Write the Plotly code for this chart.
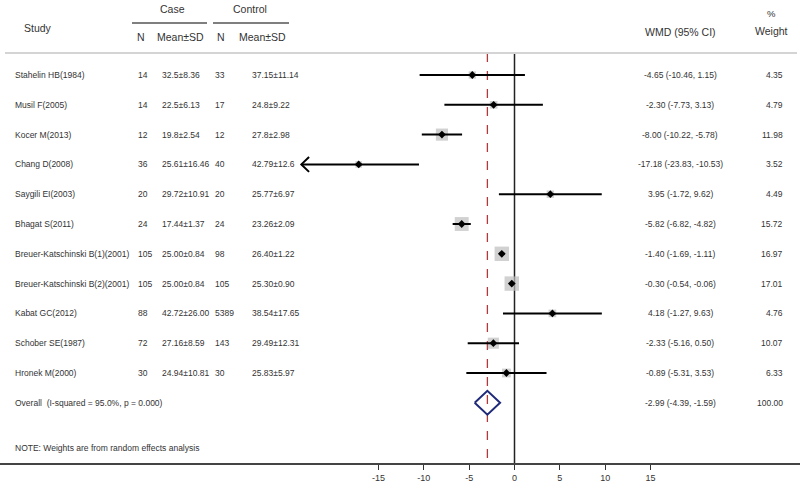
import plotly.graph_objects as go
import math

# ---------------- data ----------------
studies = ["Stahelin HB(1984)", "Musil F(2005)", "Kocer M(2013)", "Chang D(2008)",
           "Saygili EI(2003)", "Bhagat S(2011)", "Breuer-Katschinski B(1)(2001)",
           "Breuer-Katschinski B(2)(2001)", "Kabat GC(2012)", "Schober SE(1987)",
           "Hronek M(2000)"]
n_case = [14, 14, 12, 36, 20, 24, 105, 105, 88, 72, 30]
ms_case = ["32.5±8.36", "22.5±6.13", "19.8±2.54", "25.61±16.46", "29.72±10.91",
           "17.44±1.37", "25.00±0.84", "25.00±0.84", "42.72±26.00", "27.16±8.59",
           "24.94±10.81"]
n_ctrl = [33, 17, 12, 40, 20, 24, 98, 105, 5389, 143, 30]
ms_ctrl = ["37.15±11.14", "24.8±9.22", "27.8±2.98", "42.79±12.6", "25.77±6.97",
           "23.26±2.09", "26.40±1.22", "25.30±0.90", "38.54±17.65", "29.49±12.31",
           "25.83±5.97"]
wmd = [-4.65, -2.30, -8.00, -17.18, 3.95, -5.82, -1.40, -0.30, 4.18, -2.33, -0.89]
ci_lo = [-10.46, -7.73, -10.22, -23.83, -1.72, -6.82, -1.69, -0.54, -1.27, -5.16, -5.31]
ci_hi = [1.15, 3.13, -5.78, -10.53, 9.62, -4.82, -1.11, -0.06, 9.63, 0.50, 3.53]
weight = [4.35, 4.79, 11.98, 3.52, 4.49, 15.72, 16.97, 17.01, 4.76, 10.07, 6.33]
overall_est, overall_lo, overall_hi = -2.99, -4.39, -1.59
i_squared, p_value = 95.0, 0.000
tick_vals = [-15, -10, -5, 0, 5, 10, 15]
x_clip = -23.5  # left display limit of CI lines

# ---------------- geometry helpers ----------------
W, H = 800, 489
PLOT_BOTTOM = 463
ROW0_PX, ROW_STEP = 75, 29.8
ZERO_PX, PX_PER_UNIT = 514.5, 9.07


def row_of(py):
    return 1 + (py - ROW0_PX) / ROW_STEP


def px_x(px):
    return px / W


rows = list(range(1, len(studies) + 1))
overall_row = len(studies) + 1

TXT = "#333333"
FONT = "Arial, Liberation Sans, sans-serif"

fig = go.Figure()

# weight squares
fig.add_trace(go.Scatter(
    x=wmd, y=rows, mode="markers",
    marker=dict(symbol="square", size=[3.5 * math.sqrt(w) for w in weight],
                color="#bdbdbd", line=dict(width=0)),
    hoverinfo="skip", showlegend=False))

# CI lines (clipped)
for r, lo, hi in zip(rows, ci_lo, ci_hi):
    lo_c = max(lo, x_clip)
    fig.add_trace(go.Scatter(x=[lo_c, hi], y=[r, r], mode="lines",
                             line=dict(color="black", width=2),
                             hoverinfo="skip", showlegend=False))
    if lo < x_clip:
        dx, dy = 0.85, 0.25
        fig.add_trace(go.Scatter(x=[x_clip + dx, x_clip, x_clip + dx],
                                 y=[r - dy, r, r + dy], mode="lines",
                                 line=dict(color="black", width=2),
                                 hoverinfo="skip", showlegend=False))

# point estimates
fig.add_trace(go.Scatter(
    x=wmd, y=rows, mode="markers",
    marker=dict(symbol="diamond", size=6, color="black"),
    hoverinfo="skip", showlegend=False))

# overall diamond
dh = 0.4
fig.add_trace(go.Scatter(
    x=[overall_lo, overall_est, overall_hi, overall_est, overall_lo],
    y=[overall_row, overall_row - dh, overall_row, overall_row + dh, overall_row],
    mode="lines", line=dict(color="#1f2a7a", width=2),
    hoverinfo="skip", showlegend=False))

# reference lines
y_top = row_of(53)
y_bot = row_of(PLOT_BOTTOM)
fig.add_shape(type="line", x0=0, x1=0, y0=y_top, y1=y_bot, xref="x", yref="y",
              line=dict(color="#222222", width=1.5), layer="below")
fig.add_shape(type="line", x0=overall_est, x1=overall_est, y0=y_top, y1=y_bot,
              xref="x", yref="y", line=dict(color="#b03a3a", width=1.3, dash="dash"),
              layer="below")
# header separator
fig.add_shape(type="line", x0=px_x(5), x1=px_x(797), y0=y_top, y1=y_top,
              xref="paper", yref="y", line=dict(color="#d4d4d4", width=2))
# group underlines
fig.add_shape(type="line", x0=px_x(132), x1=px_x(207), y0=row_of(23), y1=row_of(23),
              xref="paper", yref="y", line=dict(color="#555555", width=1.5))
fig.add_shape(type="line", x0=px_x(213), x1=px_x(289), y0=row_of(23), y1=row_of(23),
              xref="paper", yref="y", line=dict(color="#555555", width=1.5))

ann = []


def add_text(txt, px, row, anchor="left", size=8.5, bold=False):
    ann.append(dict(text=("<b>%s</b>" % txt) if bold else txt, x=px_x(px), y=row,
                    xref="paper", yref="y", xanchor=anchor, yanchor="middle",
                    showarrow=False, font=dict(size=size, color=TXT, family=FONT)))


# headers
add_text("Study", 38, row_of(28), "center", 10.5)
add_text("Case", 172, row_of(9), "center", 10.5)
add_text("Control", 250, row_of(9), "center", 10.5)
add_text("N", 141, row_of(37), "center", 10.5)
add_text("Mean±SD", 180, row_of(37), "center", 10.5)
add_text("N", 221, row_of(37), "center", 10.5)
add_text("Mean±SD", 262, row_of(37), "center", 10.5)
add_text("WMD (95% CI)", 680, row_of(32), "center", 10.5)
add_text("%", 771, row_of(13), "center", 9.5)
add_text("Weight", 771, row_of(31), "center", 10.5)

# rows
for i, r in enumerate(rows):
    add_text(studies[i], 13, r)
    add_text(str(n_case[i]), 136, r)
    add_text(ms_case[i], 160, r)
    add_text(str(n_ctrl[i]), 213, r)
    add_text(ms_ctrl[i], 250, r)
    add_text("%.2f (%.2f, %.2f)" % (wmd[i], ci_lo[i], ci_hi[i]), 680, r, "center")
    add_text("%.2f" % weight[i], 785, r, "right")

add_text("Overall  (I-squared = %.1f%%, p = %.3f)" % (i_squared, p_value), 13, overall_row)
add_text("%.2f (%.2f, %.2f)" % (overall_est, overall_lo, overall_hi), 680, overall_row, "center")
add_text("%.2f" % 100.0, 785, overall_row, "right")
add_text("NOTE: Weights are from random effects analysis", 13, row_of(448))

fig.update_layout(
    width=W, height=H,
    margin=dict(l=0, r=0, t=0, b=H - PLOT_BOTTOM),
    paper_bgcolor="white", plot_bgcolor="white",
    annotations=ann,
    xaxis=dict(range=[-ZERO_PX / PX_PER_UNIT, (W - ZERO_PX) / PX_PER_UNIT],
               tickvals=tick_vals, ticktext=[str(v) for v in tick_vals],
               ticks="outside", ticklen=5, tickwidth=1.3, tickcolor="#333333",
               showline=True, linecolor="#444444", linewidth=2,
               showgrid=False, zeroline=False,
               tickfont=dict(size=9, color=TXT, family=FONT)),
    yaxis=dict(range=[row_of(PLOT_BOTTOM), row_of(0)], visible=False,
               showgrid=False, zeroline=False),
)

fig.write_html("out.html",
               config={"displayModeBar": False},
               post_script="document.body.style.margin='0';document.body.style.padding='0';")
